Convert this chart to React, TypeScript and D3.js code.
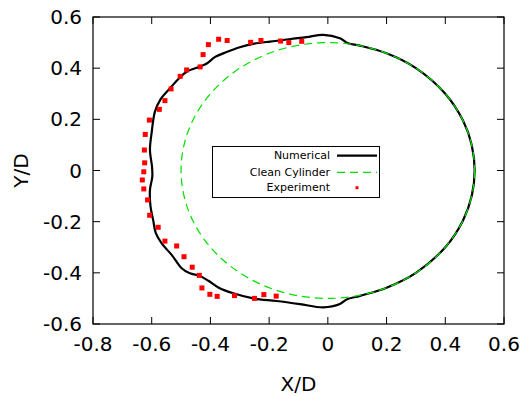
import * as React from "react";
import * as d3 from "d3";

// numerical surface, counter-clockwise from +x
const numX = [
  0.5, 0.49, 0.46, 0.4, 0.3, 0.2, 0.109, 0.069, 0.041, -0.016, -0.073, -0.127,
  -0.152, -0.197, -0.254, -0.3, -0.345, -0.385, -0.411, -0.436, -0.481, -0.51,
  -0.538, -0.57, -0.589, -0.6, -0.606, -0.599, -0.598, -0.606, -0.604, -0.595,
  -0.586, -0.566, -0.532, -0.498, -0.47, -0.436, -0.407, -0.373, -0.322,
  -0.254, -0.175, -0.095, -0.016, 0.041, 0.064, 0.109, 0.2, 0.3, 0.4, 0.46,
  0.49,
];
const numY = [
  0, 0.1, 0.196, 0.3, 0.4, 0.458, 0.488, 0.497, 0.517, 0.53, 0.521, 0.514,
  0.51, 0.504, 0.495, 0.482, 0.463, 0.443, 0.419, 0.406, 0.386, 0.357, 0.321,
  0.278, 0.23, 0.15, 0.08, 0.015, -0.024, -0.076, -0.141, -0.194, -0.245,
  -0.285, -0.33, -0.382, -0.402, -0.412, -0.431, -0.457, -0.48, -0.5, -0.51,
  -0.522, -0.535, -0.522, -0.504, -0.49, -0.458, -0.4, -0.3, -0.196, -0.1,
];

// experiment
const expX = [
  -0.089, -0.133, -0.161, -0.228, -0.263, -0.343, -0.372, -0.407, -0.425,
  -0.435, -0.481, -0.503, -0.534, -0.555, -0.574, -0.608, -0.622, -0.625,
  -0.624, -0.627, -0.632, -0.627, -0.614, -0.607, -0.578, -0.555, -0.515,
  -0.49, -0.462, -0.438, -0.429, -0.402, -0.377, -0.318, -0.25, -0.218, -0.176,
];
const expY = [
  0.505, 0.5, 0.506, 0.508, 0.501, 0.508, 0.513, 0.492, 0.453, 0.405, 0.393,
  0.368, 0.319, 0.273, 0.239, 0.197, 0.141, 0.08, 0.03, -0.005, -0.037,
  -0.072, -0.115, -0.175, -0.222, -0.276, -0.295, -0.337, -0.378, -0.41,
  -0.459, -0.484, -0.492, -0.489, -0.5, -0.485, -0.491,
];

const cylinderRadius = 0.5;

const xTicks = [-0.8, -0.6, -0.4, -0.2, 0, 0.2, 0.4, 0.6];
const yTicks = [-0.6, -0.4, -0.2, 0, 0.2, 0.4, 0.6];
const legendLabels = ["Numerical", "Clean Cylinder", "Experiment"];

const W = 528;
const H = 396;
const margin = { top: 17, right: 24, bottom: 72, left: 93 };
const font = "DejaVu Sans, sans-serif";

// gnuplot style labels: plain hyphen, bare 0
const fmt = (v: number) => (v === 0 ? "0" : v.toFixed(1));

export default function App() {
  const x = d3
    .scaleLinear()
    .domain([-0.8, 0.6])
    .range([margin.left, W - margin.right]);
  const y = d3
    .scaleLinear()
    .domain([-0.6, 0.6])
    .range([H - margin.bottom, margin.top]);

  const x0 = x.range()[0];
  const x1 = x.range()[1];
  const y0 = y.range()[0];
  const y1 = y.range()[1];

  const pts = numX.map((d, i) => [d, numY[i]] as [number, number]);
  const line = d3
    .line<[number, number]>()
    .x((d) => x(d[0]))
    .y((d) => y(d[1]))
    .curve(d3.curveCatmullRomClosed.alpha(0.5));

  const tl = 7;
  const lx = 212.5;
  const ly = 146.5;
  const lw = 167;
  const lh = 51;
  const rows = [155.7, 172.3, 187.7];

  return (
    <svg
      width={W}
      height={H}
      style={{ position: "absolute", left: 0, top: 0, background: "#fff" }}
    >
      {/* ticks */}
      {xTicks.map((t) => (
        <g key={"x" + t}>
          <line x1={x(t)} x2={x(t)} y1={y0} y2={y0 - tl} stroke="#000" />
          <line x1={x(t)} x2={x(t)} y1={y1} y2={y1 + tl} stroke="#000" />
          <text
            x={x(t)}
            y={344}
            textAnchor="middle"
            dominantBaseline="central"
            fontFamily={font}
            fontSize={20}
          >
            {fmt(t)}
          </text>
        </g>
      ))}
      {yTicks.map((t) => (
        <g key={"y" + t}>
          <line x1={x0} x2={x0 + tl} y1={y(t)} y2={y(t)} stroke="#000" />
          <line x1={x1} x2={x1 - tl} y1={y(t)} y2={y(t)} stroke="#000" />
          <text
            x={82}
            y={y(t)}
            textAnchor="end"
            dominantBaseline="central"
            fontFamily={font}
            fontSize={20}
          >
            {fmt(t)}
          </text>
        </g>
      ))}

      <path d={line(pts) || ""} fill="none" stroke="#000" strokeWidth={2.2} />
      <ellipse
        cx={x(0)}
        cy={y(0)}
        rx={x(cylinderRadius) - x(0)}
        ry={y(0) - y(cylinderRadius)}
        fill="none"
        stroke="#00e000"
        strokeWidth={1.2}
        strokeDasharray="8,5"
      />
      {expX.map((d, i) => (
        <rect
          key={i}
          x={x(d) - 2.5}
          y={y(expY[i]) - 2.5}
          width={5}
          height={5}
          fill="#ff0000"
        />
      ))}

      <rect
        x={x0}
        y={y1}
        width={x1 - x0}
        height={y0 - y1}
        fill="none"
        stroke="#000"
        strokeWidth={1.2}
      />

      {/* legend */}
      <rect x={lx} y={ly} width={lw} height={lh} fill="#fff" stroke="#000" />
      {legendLabels.map((l, i) => (
        <text
          key={l}
          x={330}
          y={rows[i]}
          textAnchor="end"
          dominantBaseline="central"
          fontFamily={font}
          fontSize={11}
        >
          {l}
        </text>
      ))}
      <line x1={337} x2={377} y1={rows[0]} y2={rows[0]} stroke="#000" strokeWidth={2.2} />
      <line
        x1={337}
        x2={377}
        y1={rows[1]}
        y2={rows[1]}
        stroke="#00e000"
        strokeWidth={1.2}
        strokeDasharray="8,5"
      />
      <rect x={355.5} y={rows[2] - 1.5} width={3} height={3} fill="#ff0000" />

      <text
        x={(x0 + x1) / 2}
        y={384}
        textAnchor="middle"
        dominantBaseline="central"
        fontFamily={font}
        fontSize={20}
      >
        X/D
      </text>
      <text
        transform={`translate(21,${(y0 + y1) / 2}) rotate(-90)`}
        textAnchor="middle"
        dominantBaseline="central"
        fontFamily={font}
        fontSize={20}
      >
        Y/D
      </text>
    </svg>
  );
}
